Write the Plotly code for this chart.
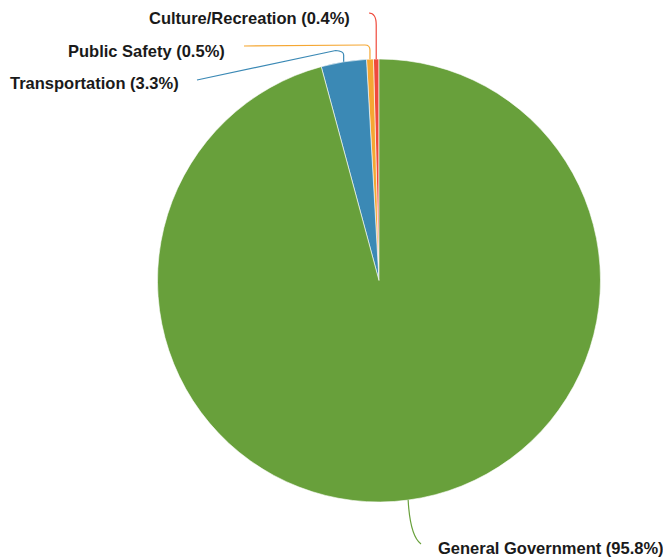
import math
import plotly.graph_objects as go

# Share of spending by function (percent)
categories = ["Culture/Recreation", "Public Safety", "Transportation", "General Government"]
shares = [0.4, 0.5, 3.3, 95.8]
colors = ["#ef4a3c", "#f5a733", "#3b89b5", "#68a03b"]

W, H = 663, 558
CX, CY, R = 379.0, 280.5, 221.5  # pie centre and radius in pixels

total = sum(shares)
# Plotly's counterclockwise pies end the first slice at the rotation angle;
# shift so the first slice starts at 12 o'clock and runs counterclockwise.
start_rot = -shares[0] / total * 360.0

fig = go.Figure()

fig.add_trace(go.Pie(
    labels=categories,
    values=shares,
    sort=False,
    direction="counterclockwise",
    rotation=start_rot,
    marker=dict(colors=colors, line=dict(color="white", width=0.6)),
    textinfo="none",
    hoverinfo="label+percent",
    showlegend=False,
    domain=dict(x=[(CX - R) / W, (CX + R) / W],
                y=[(H - CY - R) / H, (H - CY + R) / H]),
))

# Mid-angle of each slice (degrees counterclockwise from 12 o'clock)
mids = []
acc = 0.0
for v in shares:
    mids.append((acc + v / 2) / total * 360.0)
    acc += v


def edge_point(deg):
    a = math.radians(deg)
    return CX - R * math.sin(a), CY - R * math.cos(a)


# Leader-line layout: label anchor, text alignment and elbow geometry
layout_spec = {
    "Culture/Recreation": dict(lx=352, ly=18, xanchor="right", kind="top", ey=13, ex=369, bend=12),
    "Public Safety": dict(lx=227, ly=51, xanchor="right", kind="flat", ey=45, ex=244, bend=5),
    "Transportation": dict(lx=181, ly=83, xanchor="right", kind="slant", ey=51, ex=197, ey2=80, bend=4),
    "General Government": dict(lx=436, ly=548, xanchor="left", kind="bottom", ey=544, ex=421),
}

shapes = []
annotations = []
for name, v, col, mid in zip(categories, shares, colors, mids):
    s = layout_spec[name]
    sx, sy = edge_point(mid)
    if s["kind"] == "top":
        path = (f"M{sx},{sy} L{sx},{s['ey'] + s['bend']} "
                f"Q{sx},{s['ey']} {s['ex']},{s['ey']}")
    elif s["kind"] == "flat":
        b = s["bend"]
        path = (f"M{sx},{sy} L{sx},{s['ey'] + b} "
                f"Q{sx},{s['ey']} {sx - b},{s['ey']} L{s['ex']},{s['ey'] + 1}")
    elif s["kind"] == "slant":
        b = s["bend"]
        path = (f"M{sx},{sy} L{sx},{s['ey'] + b} "
                f"Q{sx},{s['ey']} {sx - 8},{s['ey'] - 0.5} L{s['ex']},{s['ey2']}")
    else:
        path = (f"M{sx},{sy} "
                f"Q{sx + 2},{s['ey'] - 8} {s['ex']},{s['ey']}")
    shapes.append(dict(type="path", path=path, xref="x", yref="y",
                       line=dict(color=col, width=1.2), layer="above"))
    annotations.append(dict(
        x=s["lx"], y=s["ly"], xref="x", yref="y",
        text=f"<b>{name} ({v:.1f}%)</b>",
        showarrow=False, xanchor=s["xanchor"], yanchor="middle",
        font=dict(family="Liberation Sans, Arial, sans-serif", size=16.5, color="#1a1a1a"),
    ))

fig.update_layout(
    width=W, height=H,
    margin=dict(l=0, r=0, t=0, b=0),
    paper_bgcolor="white", plot_bgcolor="white",
    xaxis=dict(range=[0, W], visible=False, fixedrange=True, domain=[0, 1]),
    yaxis=dict(range=[H, 0], visible=False, fixedrange=True, domain=[0, 1]),
    shapes=shapes,
    annotations=annotations,
    showlegend=False,
)

fig.write_html("out.html")
